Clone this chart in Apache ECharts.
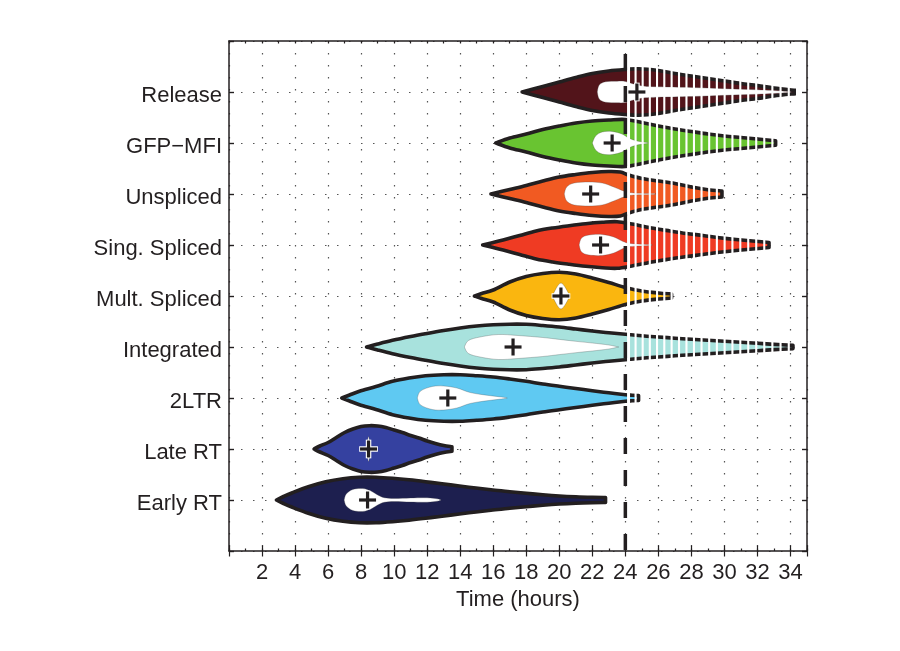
<!DOCTYPE html>
<html>
<head>
<meta charset="utf-8">
<script src="https://cdn.jsdelivr.net/npm/echarts@6/dist/echarts.min.js"></script>
<style>
html,body{margin:0;padding:0;background:#ffffff;}
#chart{width:900px;height:651px;}
</style>
</head>
<body>
<div id="chart"></div>
<script>
// ---------------- data ----------------
const stages = ['Early RT', 'Late RT', '2LTR', 'Integrated', 'Mult. Spliced', 'Sing. Spliced', 'Unspliced', 'GFP\u2212MFI', 'Release'];
const stageColors = ['#1d1f4f', '#3541a0', '#5fc9f2', '#a8e2dd', '#fab60f', '#ef3b23', '#f15a22', '#69c431', '#52141a'];
const xTickLabels = [2, 4, 6, 8, 10, 12, 14, 16, 18, 20, 22, 24, 26, 28, 30, 32, 34];
const cutoffHour = 24;
const meanHours = [8.39, 8.45, 13.25, 17.2, 20.1, 22.5, 21.9, 23.2, 24.7];

// violin outlines: [hour, density half-width]
const earlyRT = [[2.87,0],[3.3,3.5],[3.84,7.3],[4.85,13.5],[5.86,18.3],[6.9,21.3],[7.9,22.7],[8.9,22.7],[9.9,21.7],[10.9,20.2],[11.9,18.3],[12.9,16.2],[13.95,14],[14.95,12],[15.97,10],[17,8.3],[18,6.7],[19,5.2],[20,4],[21,3.2],[22,2.7],[22.8,2.5]];
const lateRT = [[5.15,0],[5.5,3],[6,6.5],[6.5,11.5],[7,16.5],[7.5,20],[8,22.5],[8.5,23.3],[9,23],[9.5,21.5],[10,19],[10.5,16.5],[11,13.5],[11.5,11],[12,8],[12.5,5.5],[13,3.5],[13.5,2.3]];
const ltr2 = [[6.83,0],[7.3,3],[7.9,6.7],[8.9,11.5],[9.9,16.7],[10.9,20],[11.9,22.3],[13,23.3],[14,23.3],[15,22.3],[16,21],[17,19],[18,16.7],[19,14],[20,11.7],[21,9.5],[22,7.3],[23,5.2],[24,3.3],[24.4,2.8],[24.8,2.5]];
const integrated = [[8.33,0],[9,3],[9.9,6.7],[11,10.5],[11.9,13.3],[13,16.5],[14,19],[15,21],[16,22.3],[17,22.8],[18,22.7],[19,21.5],[20,20],[21,18],[22,16],[23,14.2],[24,12.7],[25,11.2],[26,10],[27,8.8],[28,7.7],[29,6.7],[30,5.7],[31,4.7],[32,3.7],[33,2.6],[34.15,1.6]];
const multSpliced = [[14.86,0],[15.3,2.5],[16,6],[17,14],[18,19.5],[19,22.5],[20,23.7],[21,22],[22,18],[23,13.5],[24,8.5],[25,5],[26,3],[26.8,2]];
const singSpliced = [[15.36,0],[16,2.5],[16.6,5],[17.6,9.5],[18.6,14],[19.6,17],[20.6,19.3],[21.6,21.3],[22.6,22.7],[23.5,23.3],[24.4,21],[25.7,16.7],[26.7,14],[27.7,11.5],[28.7,9.5],[29.7,7.3],[30.7,5.5],[31.7,4],[32.7,2.5]];
const unspliced = [[15.86,0],[17,4.5],[18,8.5],[19,13],[20,17],[21,19.5],[22,21.5],[23,22.5],[23.7,22],[24.2,19],[25,15.5],[26,13],[27,10.5],[28,7],[29,4.3],[29.85,3]];
const gfpMfi = [[16.15,0],[17,5],[18,9],[19,13.5],[20,17],[21,20],[22,22],[23,23],[24,23.5],[25,20.5],[26,17],[27,14],[28,11.5],[29,9],[30,7],[31,5.5],[32,4],[33.1,2.2]];
const release = [[17.75,0],[19,5.5],[20,10],[21,14.5],[22,18.5],[23,21],[24,22.5],[24.8,23.3],[26,21.5],[27,18.5],[28,16],[29,13.5],[30,11],[31,8.5],[32,6.5],[33,4],[34.3,1.6]];

// inner (white) regions: [hour, density half-width]
const earlyRTCore = [[6.97,0],[7.1,6],[7.5,10.5],[8.1,11.5],[8.6,9],[9,5],[9.4,2.3],[10,1.5],[11,2],[12,2.2],[12.6,1.2],[12.85,0]];
const lateRTCore = [[8.33,0],[8.45,12.5],[8.57,0]];
const ltr2Core = [[11.4,0],[11.6,7],[12.3,11.5],[13,12],[13.8,10],[14.6,5.5],[15.6,2.8],[16.5,1],[16.85,0]];
const integratedCore = [[14.25,0],[14.5,6.5],[15.2,10],[16.3,12.5],[17.5,11.5],[19,9.5],[20,7.6],[21,5.7],[22,4],[23,2],[23.6,0]];
const multSplicedCore = [[19.57,0],[20.1,13],[20.65,0]];
const singSplicedCore = [[21.2,0],[21.35,7],[21.8,10],[22.6,10.5],[23.3,8],[23.8,4],[24.3,1.5],[25.5,0.4],[25.6,0]];
const unsplicedCore = [[20.3,0],[20.45,7],[20.9,11],[21.8,12],[22.6,11],[23.3,7],[23.9,3],[24.5,1],[25.7,0.4],[25.8,0]];
const gfpMfiCore = [[22.0,0],[22.2,7],[22.6,11],[23.2,11.5],[23.8,9],[24.2,5],[24.7,2],[25.3,0.5],[25.4,0]];
const releaseCore = [[22.3,0],[22.42,7],[22.8,10.2],[23.5,10.8],[24,10.5],[24.6,7.5],[25.2,5.8],[26,5.2],[28,4.5],[30,3.3],[32,2.2],[33.5,1],[34.1,0]];

const profiles = [earlyRT, lateRT, ltr2, integrated, multSpliced, singSpliced, unspliced, gfpMfi, release];
const cores = [earlyRTCore, lateRTCore, ltr2Core, integratedCore, multSplicedCore, singSplicedCore, unsplicedCore, gfpMfiCore, releaseCore];

// ---------------- drawing ----------------
const FONT = '"Liberation Sans", Arial, Helvetica, sans-serif';
const INK = '#231f20';
const densityToRow = 1 / 51;   // density units -> fraction of one category row

function curveThrough(pts) {
  let d = '';
  for (let i = 0; i < pts.length - 1; i++) {
    const p0 = pts[Math.max(i - 1, 0)], p1 = pts[i], p2 = pts[i + 1], p3 = pts[Math.min(i + 2, pts.length - 1)];
    const c1 = [p1[0] + (p2[0] - p0[0]) / 6, p1[1] + (p2[1] - p0[1]) / 6];
    const c2 = [p2[0] - (p3[0] - p1[0]) / 6, p2[1] - (p3[1] - p1[1]) / 6];
    d += 'C' + c1[0].toFixed(2) + ',' + c1[1].toFixed(2) + ' ' + c2[0].toFixed(2) + ',' + c2[1].toFixed(2) + ' ' + p2[0].toFixed(2) + ',' + p2[1].toFixed(2);
  }
  return d;
}

function violinPath(api, prof, row) {
  const top = prof.map(p => api.coord([p[0], row + p[1] * densityToRow]));
  const bot = prof.map(p => api.coord([p[0], row - p[1] * densityToRow])).reverse();
  return 'M' + top[0][0] + ',' + top[0][1] + curveThrough(top) +
         'L' + bot[0][0] + ',' + bot[0][1] + curveThrough(bot) + 'Z';
}

function widthAt(prof, x) {
  if (x > prof[prof.length - 1][0]) return -1;
  if (x <= prof[0][0]) return 0;
  for (let i = 0; i < prof.length - 1; i++) {
    if (x >= prof[i][0] && x <= prof[i + 1][0]) {
      const t = (x - prof[i][0]) / (prof[i + 1][0] - prof[i][0]);
      return prof[i][1] + t * (prof[i + 1][1] - prof[i][1]);
    }
  }
  return 0;
}

function renderViolin(params, api) {
  const i = params.dataIndex;
  const row = i + 1;
  const prof = profiles[i];
  const core = cores[i];
  const children = [];
  const pxX = api.size([1, 0])[0];
  const pxY = api.size([0, 1])[1];
  const center = api.coord([0, row])[1];

  children.push({
    type: 'path',
    shape: { pathData: violinPath(api, prof, row) },
    style: { fill: stageColors[i], stroke: INK, lineWidth: 3.6, lineJoin: 'round' }
  });
  children.push({
    type: 'path',
    shape: { pathData: violinPath(api, core, row) },
    style: { fill: '#ffffff', stroke: 'rgba(60,60,60,0.45)', lineWidth: 0.6 }
  });

  // hatched continuation past the cutoff
  const x0 = api.coord([cutoffHour, row])[0];
  const endX = prof[prof.length - 1][0];
  for (let k = 0; k < 60; k++) {
    const gx = x0 + 3.2 + k * (7 + 0.03 * k);
    const hx = cutoffHour + (gx - x0) / pxX;
    const w = widthAt(prof, Math.min(hx, endX));
    if (hx > endX + 0.15) break;
    const h = w * densityToRow * pxY;
    const gw = k === 0 ? 3 : 2.1;
    children.push({
      type: 'rect',
      shape: { x: gx - gw / 2, y: center - h - 2.7, width: gw, height: 2 * h + 5.4 },
      style: { fill: '#ffffff' }
    });
  }

  // mean marker
  const m = api.coord([meanHours[i], row]);
  const a = 8.5;
  [[-a, 0, a, 0], [0, -a, 0, a]].forEach(s => {
    children.push({ type: 'line', shape: { x1: m[0] + s[0] * 1.1, y1: m[1] + s[1] * 1.1, x2: m[0] + s[2] * 1.1, y2: m[1] + s[3] * 1.1 }, style: { stroke: '#ffffff', lineWidth: 5.5 } });
  });
  [[-a, 0, a, 0], [0, -a, 0, a]].forEach(s => {
    children.push({ type: 'line', shape: { x1: m[0] + s[0], y1: m[1] + s[1], x2: m[0] + s[2], y2: m[1] + s[3] }, style: { stroke: INK, lineWidth: 3.2 } });
  });

  return { type: 'group', children: children };
}

function renderCutoff(params, api) {
  const p1 = api.coord([cutoffHour, 10]);
  const p2 = api.coord([cutoffHour, 0]);
  return {
    type: 'line',
    shape: { x1: p1[0], y1: p1[1], x2: p2[0], y2: p2[1] },
    style: { stroke: INK, lineWidth: 3.5, lineDash: [16, 16], lineDashOffset: 19 }
  };
}

const lineStyle = { color: INK, width: 1.5 };
const chart = echarts.init(document.getElementById('chart'), null, { renderer: 'canvas' });
chart.setOption({
  animation: false,
  backgroundColor: '#ffffff',
  grid: { left: 229, right: 93, top: 41, bottom: 100, containLabel: false },
  xAxis: [
    {
      type: 'value', position: 'bottom', min: 0, max: 35, interval: 1,
      axisLine: { show: true, onZero: false, lineStyle: lineStyle },
      axisTick: { show: true, inside: true, length: 2.5, lineStyle: { color: INK, width: 1.2 } },
      axisLabel: { formatter: v => (xTickLabels.indexOf(v) >= 0 ? String(v) : ''), fontSize: 22, color: INK, margin: 11, fontFamily: FONT },
      splitLine: { show: false },
      name: 'Time (hours)', nameLocation: 'middle', nameGap: 38,
      nameTextStyle: { fontSize: 22, color: INK, fontFamily: FONT }
    },
    {
      type: 'value', position: 'bottom', min: 0, max: 35, interval: 2,
      axisLine: { show: false }, axisLabel: { show: false },
      axisTick: { show: true, inside: true, length: 5.5, lineStyle: { color: INK, width: 1.2 } },
      splitLine: { show: true, lineStyle: { color: '#555555', width: 1.2, type: [1.5, 10.5] } }
    },
    {
      type: 'value', position: 'top', min: 0, max: 35, interval: 1,
      axisLine: { show: true, onZero: false, lineStyle: lineStyle },
      axisTick: { show: true, inside: true, length: 2.5, lineStyle: { color: INK, width: 1.2 } },
      axisLabel: { show: false }, splitLine: { show: false }
    },
    {
      type: 'value', position: 'top', min: 0, max: 35, interval: 2,
      axisLine: { show: false }, axisLabel: { show: false },
      axisTick: { show: true, inside: true, length: 5.5, lineStyle: { color: INK, width: 1.2 } },
      splitLine: { show: false }
    }
  ],
  yAxis: [
    {
      type: 'value', position: 'left', min: 0, max: 10, interval: 1,
      axisLine: { show: true, onZero: false, lineStyle: lineStyle },
      axisTick: { show: true, inside: true, length: 5, lineStyle: { color: INK, width: 1.4 } },
      axisLabel: {
        formatter: v => (stages[v - 1] ? '{s|' + stages[v - 1] + '}' : ''),
        margin: 7,
        rich: { s: { fontSize: 22, color: INK, fontFamily: FONT, padding: [7, 0, 0, 0] } }
      },
      splitLine: { show: true, lineStyle: { color: '#555555', width: 1.2, type: [1.5, 10.5] } }
    },
    {
      type: 'value', position: 'right', min: 0, max: 10, interval: 1,
      axisLine: { show: true, onZero: false, lineStyle: lineStyle },
      axisTick: { show: true, inside: true, length: 5, lineStyle: { color: INK, width: 1.4 } },
      axisLabel: { show: false }, splitLine: { show: false }
    }
  ],
  series: [
    {
      type: 'custom', xAxisIndex: 0, yAxisIndex: 0, z: 3, silent: true,
      data: stages.map((s, i) => i),
      renderItem: renderViolin
    },
    {
      type: 'custom', xAxisIndex: 0, yAxisIndex: 0, z: 5, silent: true,
      data: [cutoffHour],
      renderItem: renderCutoff
    }
  ]
});
</script>
</body>
</html>
